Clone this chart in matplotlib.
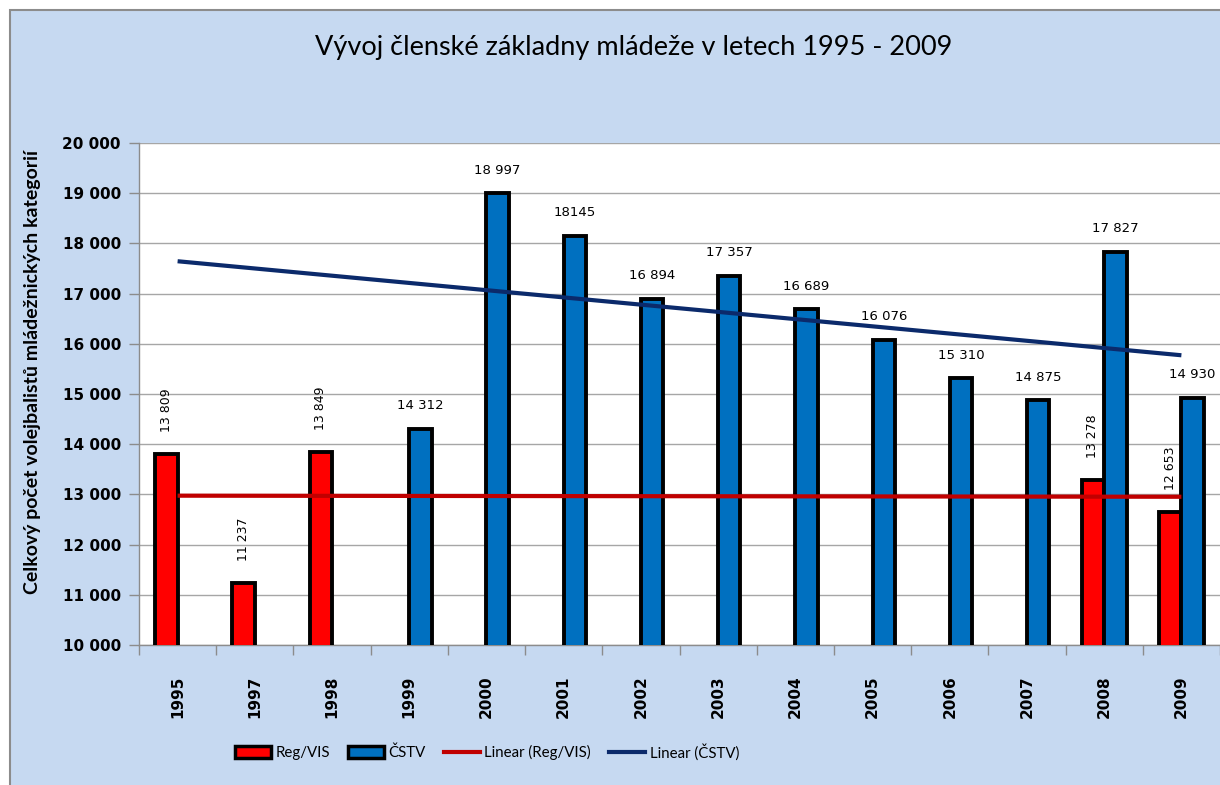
import numpy as np
import matplotlib
matplotlib.use("Agg")
import matplotlib.pyplot as plt
from matplotlib.patches import Patch, Rectangle
from matplotlib.lines import Line2D
from matplotlib.ticker import FuncFormatter, MultipleLocator

# data
years = ['1995', '1997', '1998', '1999', '2000', '2001', '2002', '2003',
         '2004', '2005', '2006', '2007', '2008', '2009']
reg_vis = [13809, 11237, 13849, np.nan, np.nan, np.nan, np.nan, np.nan,
           np.nan, np.nan, np.nan, np.nan, 13278, 12653]
cstv = [np.nan, np.nan, np.nan, 14312, 18997, 18145, 16894, 17357,
        16689, 16076, 15310, 14875, 17827, 14930]
cstv_labels = ['', '', '', '14 312', '18 997', '18145', '16 894', '17 357',
               '16 689', '16 076', '15 310', '14 875', '17 827', '14 930']

RED = '#FF0000'
BLUE = '#0070C0'
RED_TREND = '#C00000'
BLUE_TREND = '#0B2A6B'
BG = '#C6D9F1'

W, H = 1220, 785
fig = plt.figure(figsize=(W / 100, H / 100), dpi=100)
fig.patch.set_facecolor('white')

# chart area background with gray border on top/left
fig.patches.append(Rectangle((10 / W, -0.02), 1.1, 1 - 10 / H + 0.02,
                             transform=fig.transFigure, facecolor=BG,
                             edgecolor='#8C8C8C', lw=1.5, zorder=-5))

ax = fig.add_axes([139 / W, 1 - 645 / H, 1 - 139 / W, (645 - 143) / H])
ax.set_facecolor('white')

x = np.arange(len(years))
bw = 0.29
rv = np.array(reg_vis, dtype=float)
cs = np.array(cstv, dtype=float)

ax.bar(x - bw / 2, rv, width=bw, color=RED, edgecolor='black', linewidth=2.8,
       zorder=3)
ax.bar(x + bw / 2, cs, width=bw, color=BLUE, edgecolor='black', linewidth=2.8,
       zorder=3)

# linear trend lines over category index
for vals, col in [(rv, RED_TREND), (cs, BLUE_TREND)]:
    m = ~np.isnan(vals)
    k, q = np.polyfit(x[m] + 1, vals[m], 1)
    xs = np.array([x[0], x[-1]])
    ax.plot(xs, k * (xs + 1) + q, color=col, lw=3, zorder=4,
            solid_capstyle='butt')

# value labels
for i, v in enumerate(rv):
    if not np.isnan(v):
        ax.annotate(f'{int(v):,}'.replace(',', ' '), (x[i] - bw / 2, v),
                    xytext=(0, 16), textcoords='offset points', rotation=90,
                    ha='center', va='bottom', fontsize=9, zorder=5)
for i, v in enumerate(cs):
    if not np.isnan(v):
        ax.annotate(cstv_labels[i], (x[i] + bw / 2, v), xytext=(0, 12),
                    textcoords='offset points', ha='center', va='bottom',
                    fontsize=9.5, zorder=5)

ax.set_xlim(-0.5, -0.5 + 1081 / 78)
ax.set_ylim(10000, 20000)
ax.yaxis.set_major_locator(MultipleLocator(1000))
ax.yaxis.set_major_formatter(FuncFormatter(lambda v, p: f'{int(v):,}'.replace(',', ' ')))
ax.grid(axis='y', color='#A6A6A6', lw=1, zorder=0)
ax.set_axisbelow(True)

ax.set_xticks(x)
ax.set_xticklabels(years, rotation=90, fontsize=11, fontweight='bold')
ax.set_xticks(np.arange(len(years) + 1) - 0.5, minor=True)
ax.tick_params(axis='x', which='major', length=0, pad=22)
ax.tick_params(axis='x', which='minor', length=7, color='#8C8C8C', width=1)
ax.tick_params(axis='y', length=7, color='#8C8C8C', width=1, labelsize=11, pad=6)
for lab in ax.get_yticklabels():
    lab.set_fontweight('bold')

for s in ['top', 'right']:
    ax.spines[s].set_visible(False)
for s in ['left', 'bottom']:
    ax.spines[s].set_color('#8C8C8C')
    ax.spines[s].set_linewidth(1)

fig.text(634 / W, 1 - 47 / H, 'Vývoj členské základny mládeže v letech 1995 - 2009',
         ha='center', va='center', fontsize=19.5, family=['Lato', 'DejaVu Sans'])
fig.text(33 / W, 1 - 372 / H, 'Celkový počet volejbalistů mládežnických kategorií',
         rotation=90, ha='center', va='center', fontsize=14, fontweight='bold',
         family=['Lato', 'DejaVu Sans'])

handles = [Patch(facecolor=RED, edgecolor='black', lw=2.5),
           Patch(facecolor=BLUE, edgecolor='black', lw=2.5),
           Line2D([], [], color=RED_TREND, lw=3),
           Line2D([], [], color=BLUE_TREND, lw=3)]
labels = ['Reg/VIS', 'ČSTV', 'Linear (Reg/VIS)', 'Linear (ČSTV)']
fig.legend(handles, labels, loc='center', bbox_to_anchor=(487 / W, 1 - 752 / H),
           ncol=4, frameon=False, handlelength=2.4, handleheight=0.9,
           handletextpad=0.3, columnspacing=1.2,
           prop={'family': ['Lato', 'DejaVu Sans'], 'size': 10.8})

fig.savefig('out.png', dpi=100, facecolor=fig.get_facecolor())
